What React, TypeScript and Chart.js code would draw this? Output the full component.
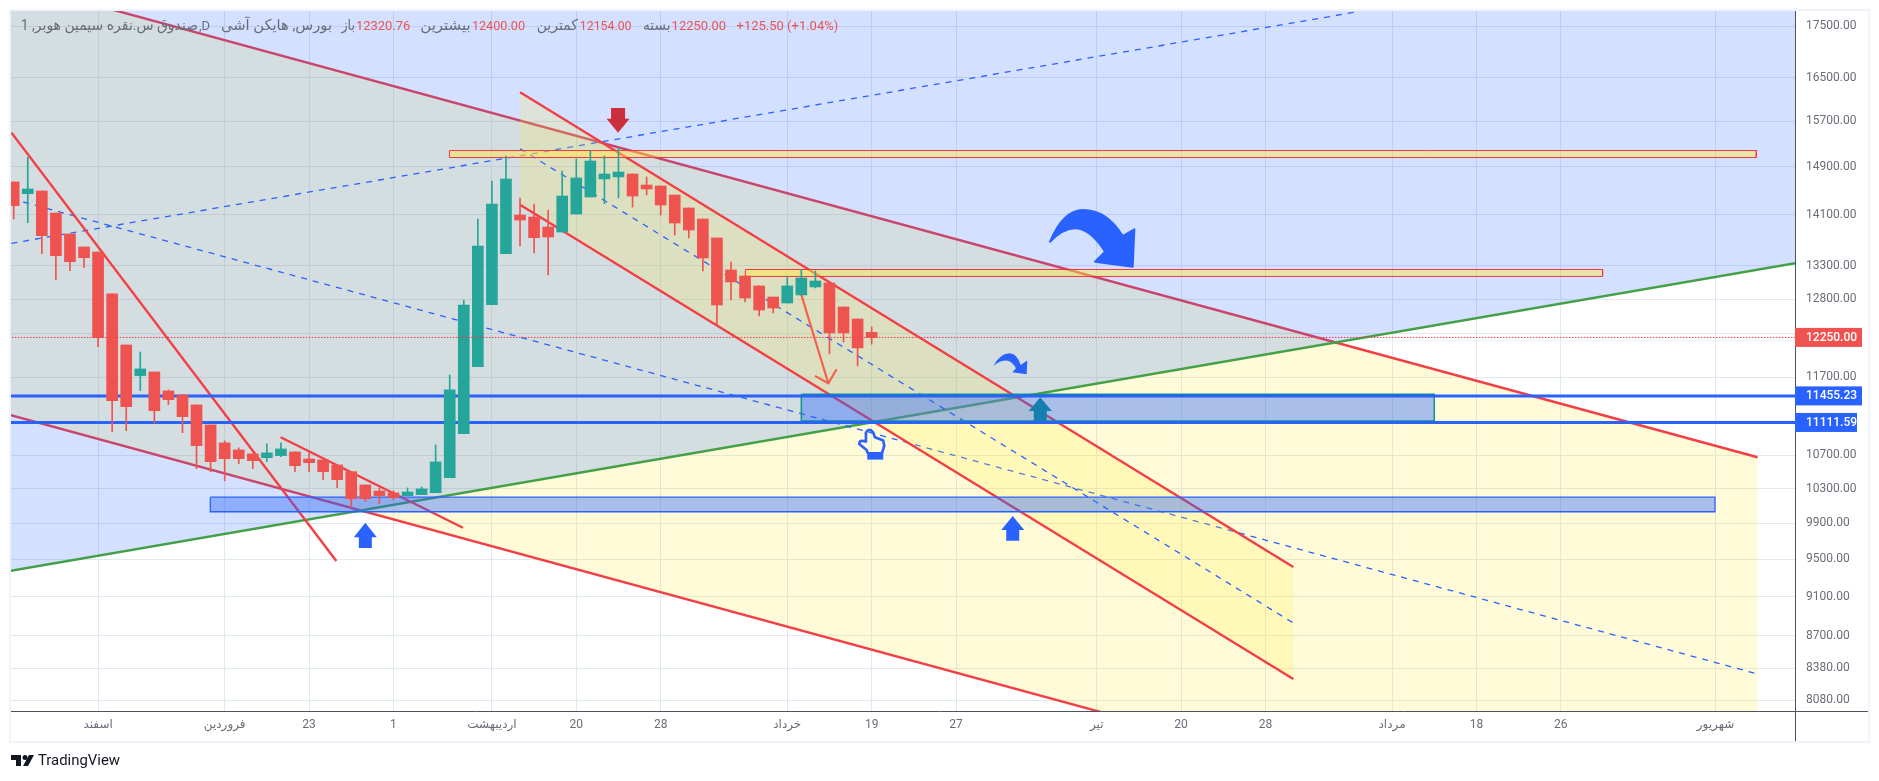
import React, { useEffect, useRef } from "react";
import { Chart, registerables } from "chart.js";

Chart.register(...registerables);

// ---------- candles (bar index 0..61) ----------
const opens = [14640,14445,14490,14128,13793,13589,13511,12876,12144,11725,11774,11521,11468,11337,11080,10854,10767,10718,10672,10697,10742,10656,10644,10583,10502,10343,10272,10249,10217,10229,10252,10430,10970,11846,12718,13485,14096,14064,13904,13824,14112,14390,14691,14725,14775,14590,14573,14423,14210,14031,13730,13235,13144,12995,12831,12743,12861,12980,13039,12685,12511,12320.76];
const highs = [14640,15061,14490,14128,13793,13589,13511,12876,12144,12047,11774,11534,11468,11337,11080,10879,10792,10718,10841,10854,10742,10730,10644,10583,10502,10343,10308,10272,10308,10319,10829,11734,12787,14031,14657,15083,14374,14275,14177,14826,15031,15170,15083,15220,14775,14725,14573,14423,14210,14031,13730,13357,13144,12995,12831,13129,13235,13220,13039,12685,12511,12400];
const lows = [14032,13972,13485,13088,13224,13270,12121,10995,11007,11525,11100,11341,10982,10538,10502,10394,10599,10538,10623,10685,10502,10502,10406,10311,10078,10147,10124,10170,10217,10229,10252,10430,10970,11846,12718,13485,13604,13495,13159,13824,14112,14390,14280,14374,14226,14423,14096,13777,13730,13220,12426,12787,12758,12555,12598,12743,12861,12965,12020,12186,11855,12154];
const closes = [14248,14523,13766,13454,13361,13423,12246,11393,11315,11815,11263,11406,11186,10820,10623,10660,10660,10635,10730,10779,10574,10611,10502,10406,10182,10182,10217,10194,10260,10296,10620,11534,12714,13604,14275,14691,14015,13734,13745,14407,14708,14997,14775,14809,14407,14523,14259,13967,13856,13418,12714,13054,12817,12641,12670,12995,13114,13069,12313,12313,12103,12250];

// ---------- axes ----------
const xTickIndex = [6,15,21,27,34,40,46,55,61,67,77,83,89,98,104,110,121];
const xTickLabels = ["اسفند","فروردین","23","1","اردیبهشت","20","28","خرداد","19","27","تیر","20","28","مرداد","18","26","شهریور"];
const priceTicks = [17500,16500,15700,14900,14100,13300,12800,12300,11700,10700,10300,9900,9500,9100,8700,8380,8080];
const hiddenPriceTicks = [12300];
const xMin = -0.192;
const xMax = 126.65;
const yMin = 7981;
const yMax = 17812;

// ---------- drawings: [index, price] ----------
const wideChannelArea = [[-0.2,18414],[123.99,10677],[123.99,6493],[-0.2,11204]];
const wideChannelTop = [[-0.2,18414],[123.99,10677]];
const wideChannelBottom = [[-0.2,11204],[123.99,6493]];
const wideChannelMiddle = [[0.68,14308],[123.99,8327]];
const risingArea = [[-1,9353],[127,13350],[127,20000],[-1,20000]];
const risingLine = [[-1,9353],[127,13350]];
const risingMiddle = [[-0.17,13646],[95.44,17791]];
const narrowChannelArea = [[36,16226],[90.98,9414],[90.98,8280],[36,14264]];
const narrowChannelTop = [[36,16226],[90.98,9414]];
const narrowChannelBottom = [[36,14264],[90.98,8280]];
const narrowChannelMiddle = [[36,15209],[90.98,8829]];
const steepLine = [[-0.16,15492],[22.94,9479]];
const shortLine = [[18.98,10925],[31.94,9848]];
const downArrowShaft = [[55.96,12891],[57.92,11623]];
const downArrowHead = [[56.97,11721],[57.92,11623],[58.51,11810]];
const resistanceBandHigh = [30.98,123.9,15178,15057];
const resistanceBandLow = [52.02,112.97,13242,13137];
const supportBandLow = [13.98,120.96,10199,10030];
const supportBandHigh = [56,101,11477,11130];
const horizontalLevels = [11455.23,11111.59];
const lastPrice = 12250;

// ---------- icon anchors: index, price ----------
const redDownAnchor = [42.97,15492];
const blueUpAnchorA = [25,9905];
const blueUpAnchorB = [71.03,9981];
const tealUpAnchor = [72.99,11438];
const bigCurveAnchor = [79.56,13285];
const smallCurveAnchor = [72.02,11743];
const handAnchor = [60.83,11025];

const RED = "#ef5350";
const GREEN = "#26a69a";
const LINE_RED = "#f23f45";
const BLUE = "#2962ff";
const GREY_TEXT = "#6a6d78";
const FONT = "Roboto, 'DejaVu Sans', sans-serif";

const pts = (a: number[][]) => a.map(([x, y]) => ({ x, y }));
const rectPts = ([x0, x1, y0, y1]: number[]) =>
  [{ x: x0, y: y0 }, { x: x1, y: y0 }, { x: x1, y: y1 }, { x: x0, y: y1 }, { x: x0, y: y0 }];

const line = (data: any[], color: string, width: number, order: number, dash: number[] = []) => ({
  type: "line" as const, data, borderColor: color, borderWidth: width, borderDash: dash,
  pointRadius: 0, tension: 0, fill: false, order, borderCapStyle: "butt",
});
const area = (data: any[], color: string, order: number) => ({
  type: "line" as const, data, borderWidth: 0, borderColor: "transparent", backgroundColor: color,
  pointRadius: 0, tension: 0, fill: "shape", order,
});
const box = (data: any[], fillColor: string, stroke: string, width: number, order: number) => ({
  type: "line" as const, data, borderWidth: width, borderColor: stroke, backgroundColor: fillColor,
  pointRadius: 0, tension: 0, fill: "shape", order,
});

const arrowUp = (c: CanvasRenderingContext2D, x: number, y: number, color: string, hw: number, sw: number, hh: number, total: number, dir: number) => {
  c.fillStyle = color;
  c.beginPath();
  c.moveTo(x, y);
  c.lineTo(x + hw, y + dir * hh);
  c.lineTo(x + sw, y + dir * hh);
  c.lineTo(x + sw, y + dir * total);
  c.lineTo(x - sw, y + dir * total);
  c.lineTo(x - sw, y + dir * hh);
  c.lineTo(x - hw, y + dir * hh);
  c.closePath();
  c.fill();
};

const headerPieces: [string, number, number, string, boolean][] = [
  ["صندوق س.نقره سیمین هوبر, 1", 20.7, 198, GREY_TEXT, true],
  [",D", 199, 213.5, GREY_TEXT, false],
  ["بورس, هایکن آشی", 221, 332, GREY_TEXT, true],
  ["باز", 341.5, 355, GREY_TEXT, true],
  ["12320.76", 355.9, 410.4, RED, false],
  ["بیشترین", 420, 470.7, GREY_TEXT, true],
  ["12400.00", 471.9, 525, RED, false],
  ["کمترین", 536.7, 578, GREY_TEXT, true],
  ["12154.00", 579.8, 631.5, RED, false],
  ["بسته", 643, 670.5, GREY_TEXT, true],
  ["12250.00", 671.6, 726, RED, false],
  ["+125.50 (+1.04%)", 736.5, 844, RED, false],
];

const priceTags: [number, string, string, number][] = [
  [12250, "12250.00", RED, 67],
  [11455.23, "11455.23", BLUE, 67],
  [11111.59, "11111.59", BLUE, 62],
];

const overlay = {
  id: "overlay",
  afterDraw(chart: any) {
    const c: CanvasRenderingContext2D = chart.ctx;
    const { left, right, top, bottom } = chart.chartArea;
    const sx = chart.scales.x, sy = chart.scales.y;
    const P = (a: number[]) => [sx.getPixelForValue(a[0]), sy.getPixelForValue(a[1])];
    c.save();

    // clip icons to the pane
    c.save();
    c.beginPath();
    c.rect(left, top, right - left, bottom - top);
    c.clip();
    let [ax, ay] = P(redDownAnchor);
    arrowUp(c, ax, ay, "#cc2f3c", 11.5, 7, 14, 24.7, -1);
    [ax, ay] = P(blueUpAnchorA);
    arrowUp(c, ax, ay, BLUE, 11.5, 6.5, 14.6, 25.3, 1);
    [ax, ay] = P(blueUpAnchorB);
    arrowUp(c, ax, ay, BLUE, 11.5, 6.5, 14, 24.7, 1);
    [ax, ay] = P(tealUpAnchor);
    arrowUp(c, ax, ay, "#1580b0", 11.5, 6.5, 13.7, 24.4, 1);

    // big curved arrow
    [ax, ay] = P(bigCurveAnchor);
    c.save();
    c.translate(ax, ay);
    c.scale(1 / 3, 1 / 3);
    c.translate(-398, -230);
    c.fillStyle = BLUE;
    c.strokeStyle = BLUE;
    c.lineWidth = 6;
    c.lineJoin = "round";
    c.beginPath();
    c.moveTo(150, 155);
    c.quadraticCurveTo(190, 60, 250, 60);
    c.quadraticCurveTo(320, 60, 368, 138);
    c.lineTo(403, 118);
    c.lineTo(398, 230);
    c.lineTo(285, 215);
    c.lineTo(315, 185);
    c.quadraticCurveTo(270, 115, 225, 115);
    c.quadraticCurveTo(190, 115, 150, 155);
    c.closePath();
    c.fill();
    c.stroke();
    c.restore();

    // small curved arrow
    [ax, ay] = P(smallCurveAnchor);
    c.save();
    c.translate(ax, ay);
    c.scale(1 / 3, 1 / 3);
    c.translate(-740, -103);
    c.fillStyle = BLUE;
    c.beginPath();
    c.moveTo(640, 78);
    c.quadraticCurveTo(660, 40, 690, 40);
    c.quadraticCurveTo(712, 42, 722, 75);
    c.lineTo(742, 62);
    c.lineTo(740, 103);
    c.lineTo(697, 97);
    c.lineTo(708, 85);
    c.quadraticCurveTo(695, 62, 678, 62);
    c.quadraticCurveTo(660, 62, 640, 78);
    c.closePath();
    c.fill();
    c.restore();

    // hand
    [ax, ay] = P(handAnchor);
    c.save();
    c.translate(ax, ay);
    c.scale(1 / 3, 1 / 3);
    c.translate(-88, -28);
    c.strokeStyle = BLUE;
    c.fillStyle = BLUE;
    c.lineWidth = 8;
    c.lineJoin = "round";
    c.beginPath();
    c.moveTo(78, 65);
    c.lineTo(78, 38);
    c.quadraticCurveTo(88, 22, 100, 38);
    c.lineTo(105, 52);
    c.lineTo(130, 62);
    c.lineTo(133, 78);
    c.lineTo(126, 100);
    c.lineTo(84, 100);
    c.lineTo(80, 90);
    c.lineTo(58, 72);
    c.quadraticCurveTo(58, 58, 78, 65);
    c.closePath();
    c.stroke();
    c.fillRect(82, 100, 48, 19);
    c.restore();
    c.restore();

    // frame and axis lines
    c.strokeStyle = "#f0f3fa";
    c.lineWidth = 2;
    c.strokeRect(10, 10, 1859, 732);
    c.strokeStyle = "#50535e";
    c.lineWidth = 1;
    c.beginPath();
    c.moveTo(11, Math.round(bottom) + 0.5);
    c.lineTo(1868, Math.round(bottom) + 0.5);
    c.moveTo(Math.round(right) + 0.5, top);
    c.lineTo(Math.round(right) + 0.5, 741);
    c.stroke();

    // price tags
    c.textBaseline = "middle";
    c.textAlign = "left";
    c.font = `500 12px ${FONT}`;
    for (const [value, text, color, width] of priceTags) {
      const y = sy.getPixelForValue(value);
      c.fillStyle = color;
      c.fillRect(right, y - 9.5, width, 19);
      c.fillStyle = "#fff";
      c.fillText(text, 1806, y + 0.5);
    }

    // legend header
    c.textBaseline = "middle";
    for (const [text, x0, x1, color, rtl] of headerPieces) {
      c.font = `${rtl ? 15 : 13}px ${FONT}`;
      c.fillStyle = color;
      (c as any).direction = rtl ? "rtl" : "ltr";
      c.textAlign = rtl ? "right" : "left";
      c.fillText(text, rtl ? x1 : x0, 26.5, x1 - x0);
    }
    (c as any).direction = "ltr";

    // brand
    c.fillStyle = "#131722";
    c.beginPath();
    c.moveTo(11, 755);
    c.lineTo(21, 755);
    c.lineTo(21, 766);
    c.lineTo(16, 766);
    c.lineTo(16, 760);
    c.lineTo(11, 760);
    c.closePath();
    c.moveTo(29, 755);
    c.lineTo(34, 755);
    c.lineTo(28, 766);
    c.lineTo(23, 766);
    c.closePath();
    c.fill();
    c.beginPath();
    c.arc(25, 757.5, 2.5, 0, Math.PI * 2);
    c.fill();
    c.textAlign = "left";
    c.font = `15px ${FONT}`;
    c.fillText("TradingView", 38, 761, 82);
    c.restore();
  },
};

export default function App() {
  const ref = useRef<HTMLCanvasElement>(null);
  useEffect(() => {
    const idx = opens.map((_, i) => i);
    const colors = opens.map((o, i) => (closes[i] >= o ? GREEN : RED));
    const chart = new Chart(ref.current!, {
      type: "bar",
      data: {
        datasets: [
          area(pts(wideChannelArea), "rgba(255,235,59,0.2)", 100),
          line(pts(wideChannelTop), LINE_RED, 2.4, 95),
          line(pts(wideChannelBottom), LINE_RED, 2.4, 94),
          area(pts(risingArea), "rgba(41,98,255,0.2)", 90),
          line(pts(risingLine), "#43a047", 2.4, 85),
          line(pts(risingMiddle), BLUE, 1.3, 82, [6, 6]),
          line(pts(wideChannelMiddle), BLUE, 1.3, 81, [6, 6]),
          area(pts(narrowChannelArea), "rgba(255,235,59,0.2)", 78),
          line(pts(narrowChannelTop), LINE_RED, 2.4, 75),
          line(pts(narrowChannelBottom), LINE_RED, 2.4, 74),
          line(pts(narrowChannelMiddle), BLUE, 1.3, 73, [6, 6]),
          line(pts(steepLine), LINE_RED, 2.4, 72),
          line(pts(shortLine), LINE_RED, 2.4, 71),
          box(rectPts(resistanceBandHigh), "rgba(255,235,59,0.45)", "#f23645", 1, 70),
          box(rectPts(resistanceBandLow), "rgba(255,235,59,0.45)", "#f23645", 1, 69),
          box(rectPts(supportBandLow), "rgba(41,98,255,0.4)", BLUE, 1.3, 68),
          box(rectPts(supportBandHigh), "rgba(41,98,255,0.4)", "#089981", 1.5, 67),
          ...horizontalLevels.map((v, i) =>
            line([{ x: xMin - 1, y: v }, { x: xMax + 1, y: v }], BLUE, 3, 66 - i)),
          line(pts(downArrowShaft), "#f7604a", 2.2, 64),
          line(pts(downArrowHead), "#f7604a", 2.2, 63),
          {
            type: "bar" as const,
            data: idx.map((i) => ({ x: i, y: [lows[i], highs[i]] })),
            backgroundColor: colors,
            barThickness: 1,
            grouped: false,
            order: 10,
          },
          {
            type: "bar" as const,
            data: idx.map((i) => ({ x: i, y: [Math.min(opens[i], closes[i]), Math.max(opens[i], closes[i])] })),
            backgroundColor: colors,
            barThickness: 11,
            grouped: false,
            order: 5,
          },
          line([{ x: xMin - 1, y: lastPrice }, { x: xMax + 1, y: lastPrice }], "#f23645", 1, 1, [1.5, 1.5]),
        ] as any,
      },
      options: {
        responsive: false,
        animation: false,
        devicePixelRatio: 1,
        events: [],
        normalized: false,
        layout: { padding: { left: 11, top: 11, right: 11, bottom: 40 } },
        plugins: { legend: { display: false }, tooltip: { enabled: false }, title: { display: false } },
        scales: {
          x: {
            type: "linear",
            min: xMin,
            max: xMax,
            offset: false,
            border: { display: false },
            grid: { color: "#e0e8f0", lineWidth: 1, drawTicks: false, offset: false },
            afterBuildTicks: (s: any) => { s.ticks = xTickIndex.map((value) => ({ value })); },
            afterFit: (s: any) => { s.height = 30; s.paddingLeft = 0; s.paddingRight = 0; },
            ticks: {
              autoSkip: false,
              maxRotation: 0,
              minRotation: 0,
              padding: 7,
              color: GREY_TEXT,
              font: { family: FONT, size: 12 },
              callback: (v: any) => xTickLabels[xTickIndex.indexOf(Number(v))] ?? "",
            },
          },
          y: {
            type: "logarithmic",
            position: "right",
            min: yMin,
            max: yMax,
            bounds: "data",
            border: { display: false },
            grid: { color: "#e0e8f0", lineWidth: 1, drawTicks: false },
            afterBuildTicks: (s: any) => { s.ticks = priceTicks.map((value) => ({ value })); },
            afterFit: (s: any) => { s.width = 73; s.paddingTop = 0; s.paddingBottom = 0; },
            ticks: {
              autoSkip: false,
              align: "center",
              crossAlign: "near",
              padding: 11,
              color: GREY_TEXT,
              font: { family: FONT, size: 12 },
              callback: (v: any) => (hiddenPriceTicks.includes(Number(v)) ? "" : Number(v).toFixed(2)),
            },
          },
        },
      } as any,
      plugins: [overlay],
    });
    return () => chart.destroy();
  }, []);
  return (
    <canvas
      ref={ref}
      width={1879}
      height={781}
      style={{ position: "fixed", left: 0, top: 0, width: 1879, height: 781, background: "#fff" }}
    />
  );
}
